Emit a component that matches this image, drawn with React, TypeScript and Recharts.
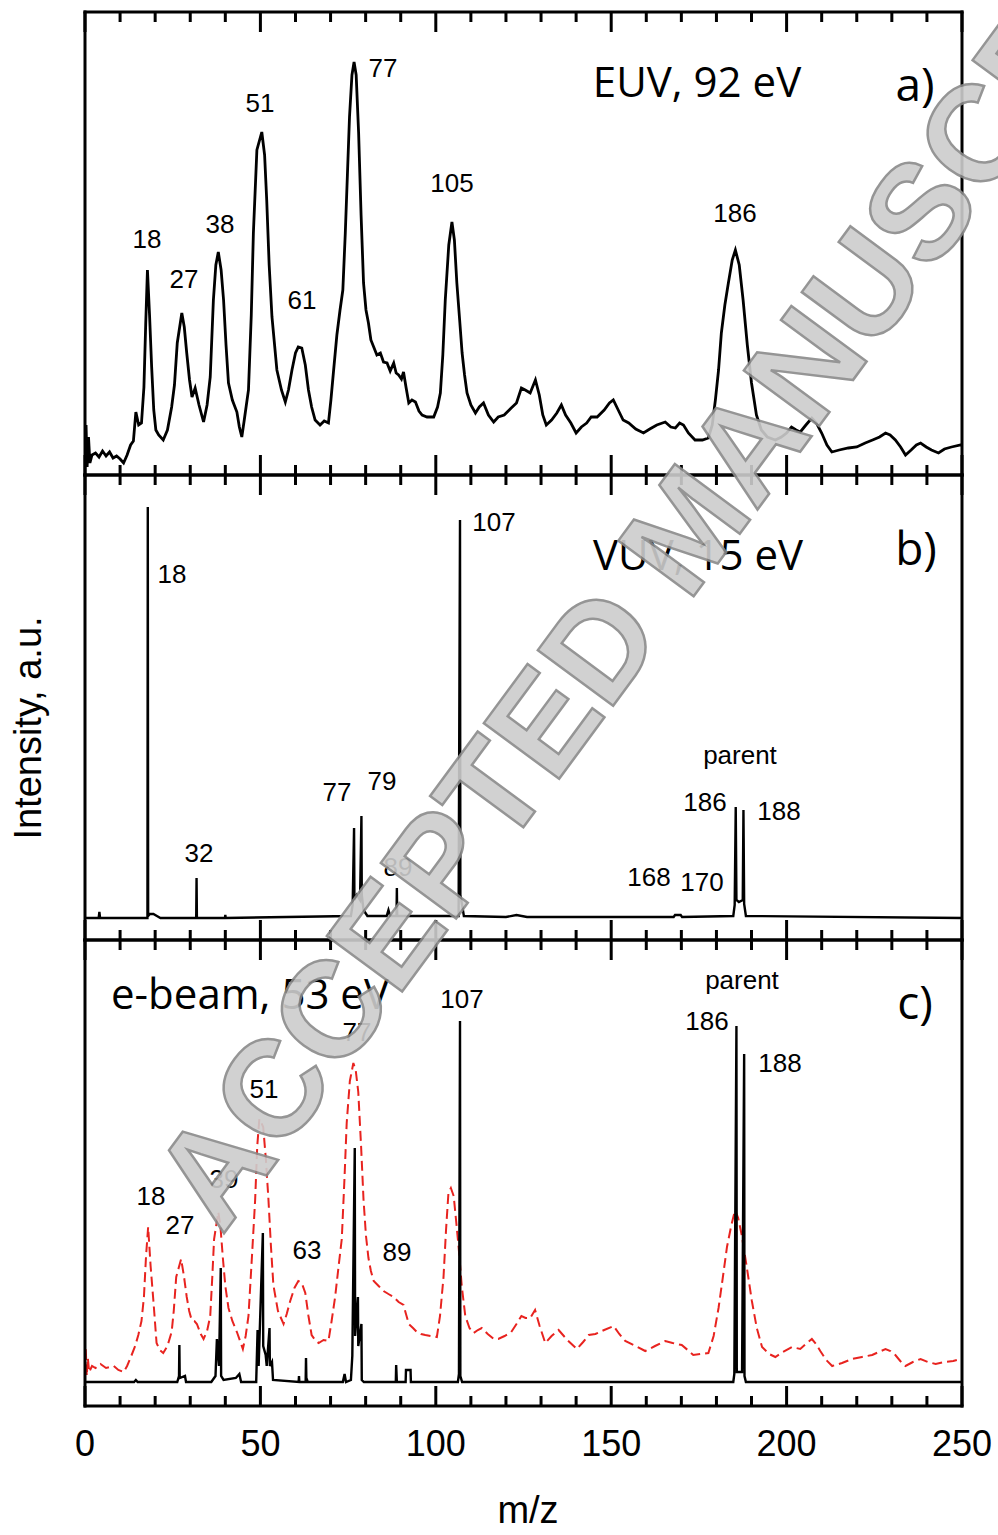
import React from 'react';
import { LineChart, Line, XAxis, YAxis } from 'recharts';

// m/z ticks shared by all three panels
const MZ_TICKS = [0, 10, 20, 30, 40, 50, 60, 70, 80, 90, 100, 110, 120, 130, 140, 150, 160, 170, 180, 190, 200, 210, 220, 230, 240, 250];
const MZ_MAJOR = [0, 50, 100, 150, 200, 250];

// a) EUV, 92 eV
const euvMz = [0, 0.3, 0.6, 1.0, 1.4, 2, 3, 4, 5, 6, 7, 8, 9, 10, 11, 12, 13, 13.8, 14.5, 15.3, 16.1, 16.8, 17.3, 17.8, 18.4, 19, 19.6, 20.2, 21, 22.3, 23.5, 24.7, 25.5, 26.3, 27.6, 28.3, 29, 29.8, 30.5, 31.4, 32.5, 33.8, 34.8, 35.7, 36.6, 37.3, 38, 38.8, 39.5, 40.2, 40.9, 42, 43.3, 44, 44.7, 45.4, 46.6, 47.4, 48, 49, 50.4, 51.2, 51.8, 52.5, 53.3, 54.7, 56, 57.1, 58, 59, 60, 60.8, 61.8, 62.8, 63.7, 64.6, 65.6, 67, 68.2, 69.4, 70.1, 70.8, 71.8, 72.7, 73.5, 74.2, 74.8, 75.4, 76.1, 76.7, 77.3, 78, 78.7, 79.4, 80.1, 80.8, 81.5, 82.3, 83.2, 84.2, 85.1, 86.1, 87, 88, 88.7, 89.4, 90.2, 90.8, 91.5, 92.3, 93.2, 94.2, 95.2, 96.1, 97.5, 99.4, 100.5, 101.3, 102, 102.7, 103.7, 104.6, 105.3, 106, 106.8, 107.5, 108.2, 108.9, 110, 111.3, 112.4, 113.6, 115, 116.5, 117.8, 119.5, 121.5, 123, 124.4, 125.5, 126.9, 128.4, 129.5, 130.5, 131.5, 133, 134.5, 135.8, 137, 138.5, 140, 141.5, 143, 144.3, 146, 148, 149.5, 150.6, 152, 153.4, 155, 157, 159.2, 161, 163, 165.4, 167, 168.3, 169.5, 170.6, 172, 173.9, 176, 177.7, 178.8, 179.7, 180.6, 181.4, 182.4, 183.4, 184.5, 185.4, 186.5, 187.6, 188.8, 190, 191.4, 192.8, 194.5, 196.8, 198.5, 200, 201.4, 202.7, 203.9, 205.5, 207.2, 208.5, 210, 211.5, 212.9, 215, 217.6, 220, 222.4, 224.5, 226.5, 228.2, 229.5, 231, 232.5, 233.9, 235.5, 237, 238.2, 239.8, 241.3, 243.3, 245, 247, 249.6, 250];
const euvInt = [15, 50, 8, 38, 12, 20, 22, 18, 24, 19, 23, 17, 19, 16, 12, 20, 30, 34, 63, 50, 52, 88, 150, 205, 160, 108, 65, 45, 40, 35, 45, 68, 90, 132, 162, 148, 122, 95, 78, 87, 70, 53, 70, 98, 175, 210, 223, 205, 175, 130, 92, 75, 63, 48, 38, 55, 85, 160, 242, 325, 343, 320, 275, 210, 158, 105, 85, 73, 85, 105, 122, 128, 127, 110, 85, 68, 55, 50, 54, 52, 75, 102, 140, 165, 185, 242, 300, 358, 400, 413, 400, 342, 260, 192, 165, 152, 135, 128, 120, 122, 113, 112, 104, 112, 102, 100, 96, 103, 88, 72, 75, 73, 64, 60, 58, 58, 68, 82, 120, 175, 230, 253, 235, 192, 155, 122, 100, 82, 70, 62, 68, 72, 60, 53, 58, 60, 67, 72, 87, 85, 82, 95, 80, 60, 50, 55, 62, 70, 60, 52, 42, 48, 52, 58, 58, 65, 72, 75, 65, 55, 52, 46, 42, 46, 50, 53, 48, 47, 52, 50, 42, 35, 35, 37, 50, 75, 105, 142, 170, 192, 215, 225, 210, 175, 130, 92, 60, 45, 38, 35, 38, 42, 48, 45, 43, 50, 57, 52, 42, 30, 23, 25, 27, 28, 32, 35, 38, 42, 40, 35, 28, 20, 25, 30, 32, 28, 25, 22, 26, 28, 30, 30];

// b) VUV, 15 eV (stick spectrum)
const vuvMz = [0, 3.9, 4.1, 4.3, 17.8, 17.9, 18.0, 18.5, 19.5, 20.5, 21.5, 31.7, 31.8, 31.9, 39.9, 40, 40.1, 75.8, 76.3, 76.7, 76.8, 77.5, 78.4, 78.8, 78.9, 79.4, 80.5, 86, 86.5, 87, 88.8, 88.9, 89, 106.5, 106.9, 107.0, 107.5, 108, 120, 123, 126, 167.8, 168.2, 169.8, 170.2, 184.8, 185.2, 185.5, 185.7, 186.4, 187.5, 187.7, 187.9, 188.4, 250];
const vuvInt = [22, 22, 28, 22, 22, 433, 24, 26, 26, 24, 22, 22, 62, 22, 22, 25, 22, 24, 35, 112, 40, 45, 40, 124, 45, 30, 24, 24, 30, 24, 24, 52, 24, 24, 420, 45, 35, 24, 23, 25, 23, 23, 25, 25, 23, 24, 35, 133, 40, 38, 40, 130, 36, 24, 22];

// c) e-beam, 53 eV (black sticks) and EUV overlay (red dashed)
const ebeamMz = [0, 14, 14.5, 15, 26.3, 26.8, 26.9, 27.0, 28.5, 28.8, 36, 37.2, 37.6, 38.2, 38.7, 38.8, 39.5, 43, 44, 44.5, 48.8, 49.2, 49.5, 50.7, 50.8, 51.5, 51.8, 52.6, 52.7, 53.3, 53.6, 60.9, 61, 61.1, 62.9, 63.0, 63.1, 63.5, 73.5, 74, 74.4, 75.8, 76.2, 76.9, 77.0, 77.8, 77.9, 78.8, 78.9, 79.5, 88.6, 88.7, 88.9, 91.4, 91.5, 92.8, 92.9, 106.3, 106.6, 106.9, 107.0, 107.5, 184.8, 185.1, 185.7, 185.8, 187.3, 187.9, 188.0, 188.4, 250];
const ebeamInt = [24, 24, 26, 24, 24, 30, 61, 28, 30, 24, 24, 30, 67, 40, 138, 30, 26, 28, 32, 24, 24, 76, 40, 173, 60, 51, 40, 78, 40, 44, 26, 24, 30, 24, 24, 48, 28, 24, 24, 32, 24, 26, 50, 258, 70, 109, 60, 82, 26, 24, 24, 41, 24, 24, 36, 36, 24, 24, 32, 385, 30, 24, 24, 32, 380, 34, 34, 352, 30, 24, 24];
const overlayMz = [0, 0.2, 0.5, 0.8, 1.2, 2, 3, 4.4, 6, 8.2, 9.5, 11, 12, 13.3, 14.3, 15.2, 16.1, 16.8, 17.4, 18, 18.7, 19.5, 20.4, 21.3, 22.3, 23.5, 24.7, 25.3, 26, 27.4, 28.2, 29, 29.7, 30.4, 31.2, 31.9, 33, 33.8, 34.8, 35.7, 36.3, 36.8, 38, 38.6, 39.3, 40, 40.9, 42, 43.3, 44.2, 45, 45.8, 46.6, 47.6, 48.5, 49.1, 49.7, 50.3, 50.8, 51.6, 52.3, 53, 53.7, 55, 56.6, 57.5, 58.5, 59.7, 60.8, 61.8, 62.8, 63.7, 64.6, 65.6, 66.6, 68, 69.4, 70.3, 71.3, 72.3, 73.2, 74, 74.6, 75.5, 76.5, 77.2, 77.9, 78.7, 79.4, 80.1, 80.8, 81.5, 82.3, 83.7, 85.1, 86.5, 88, 89.4, 90.8, 91.5, 92.3, 93.5, 94.6, 95.8, 97, 98.6, 100.3, 101.2, 102.2, 102.9, 103.6, 104.3, 105.1, 105.8, 106.5, 107.4, 108.4, 109.6, 110.8, 112, 113.1, 114.8, 116.5, 117.8, 119.6, 121.5, 123, 124.4, 125.6, 126.9, 128.3, 129.6, 131.2, 133, 135, 137.5, 140.2, 142, 143.6, 145.5, 148, 150.7, 152.3, 154, 157, 159.7, 162.5, 165.4, 167.5, 170.1, 171.8, 173.4, 175.5, 177.7, 179.2, 180.6, 181.8, 183, 184.2, 185.3, 186.2, 187.2, 188.6, 190.1, 191.5, 193, 195, 196.8, 199, 201.5, 203.9, 205.5, 207.2, 208.4, 209.6, 211.3, 213, 215.8, 218.7, 221.5, 224.4, 226.3, 228.2, 229.6, 231, 232.4, 233.9, 236, 238.2, 240.3, 242.5, 245, 247.5, 249.6, 250];
const overlayInt = [32, 59, 30, 48, 34, 40, 38, 42, 38, 40, 36, 34, 40, 51, 60, 71, 85, 109, 150, 179, 140, 105, 63, 56, 53, 60, 74, 95, 129, 147, 130, 109, 95, 86, 85, 82, 72, 67, 75, 90, 130, 167, 194, 180, 148, 120, 98, 85, 74, 65, 57, 70, 90, 150, 206, 260, 287, 283, 279, 245, 206, 160, 121, 95, 82, 92, 105, 118, 125, 123, 113, 90, 71, 66, 63, 66, 65, 85, 109, 140, 167, 230, 283, 325, 343, 335, 314, 260, 206, 170, 148, 135, 125, 120, 115, 112, 109, 104, 101, 92, 82, 78, 74, 72, 71, 70, 69, 90, 129, 175, 213, 218, 210, 185, 159, 120, 90, 78, 73, 76, 78, 72, 67, 67, 70, 74, 82, 90, 88, 88, 96, 80, 63, 70, 76, 66, 57, 64, 71, 72, 76, 80, 72, 65, 60, 55, 60, 65, 63, 61, 56, 51, 52, 53, 70, 98, 128, 159, 180, 196, 188, 171, 140, 105, 78, 59, 52, 49, 54, 59, 57, 62, 67, 62, 55, 46, 40, 43, 47, 49, 51, 54, 57, 55, 51, 45, 40, 44, 47, 44, 42, 44, 45, 47, 47];

const toRows = (mz: number[], v: number[]) => mz.map((m, i) => ({ mz: m, v: v[i] }));
const euvData = toRows(euvMz, euvInt);
const vuvData = toRows(vuvMz, vuvInt);
const ebeamData = toRows(ebeamMz, ebeamInt);
const overlayData = toRows(overlayMz, overlayInt);

const W = 998;
// axes are 1px thick (recharts skips 0-size axes), so margins are one px short
const LEFT = 84;
const RIGHT = 35;
const AXIS_LINE = { stroke: '#000', strokeWidth: 3, strokeLinecap: 'square' as const };
const NUM_FONT = '"Liberation Sans", Arial, sans-serif';
const NOTE_FONT = '"Open Sans", sans-serif';

// inward tick marks on the panel frame, optional m/z labels below
const FrameTick = (props: any) => {
  const { x, y, payload, dir, label } = props;
  const major = MZ_MAJOR.includes(payload.value);
  const len = major ? 20 : 10;
  return (
    <g>
      <line x1={x} x2={x} y1={y} y2={y + dir * len} stroke="#000" strokeWidth={3} />
      {label && major && (
        <text x={x} y={y + 37} textAnchor="middle" dominantBaseline="central" fontFamily={NUM_FONT} fontSize={36} fill="#000">
          {payload.value}
        </text>
      )}
    </g>
  );
};

const frameAxes = (yMax: number, labels: boolean) => [
  <XAxis key="xb" xAxisId="b" dataKey="mz" type="number" domain={[0, 250]} allowDataOverflow ticks={MZ_TICKS} interval={0}
    orientation="bottom" height={1} tickSize={0} tickMargin={0} tickLine={false} axisLine={AXIS_LINE}
    tick={(p: any) => <FrameTick {...p} dir={-1} label={labels} />} />,
  <XAxis key="xt" xAxisId="t" dataKey="mz" type="number" domain={[0, 250]} allowDataOverflow ticks={MZ_TICKS} interval={0}
    orientation="top" height={1} tickSize={0} tickMargin={0} tickLine={false} axisLine={AXIS_LINE}
    tick={(p: any) => <FrameTick {...p} dir={1} label={false} />} />,
  <YAxis key="yl" yAxisId="l" type="number" domain={[0, yMax]} allowDataOverflow orientation="left" width={1}
    tick={false} tickLine={false} axisLine={AXIS_LINE} />,
  <YAxis key="yr" yAxisId="r" type="number" domain={[0, yMax]} allowDataOverflow orientation="right" width={1}
    tick={false} tickLine={false} axisLine={AXIS_LINE} />,
];

const peak = (x: number, y: number, t: string, size = 26) => (
  <text key={`${t}-${x}-${y}`} x={x} y={y} textAnchor="middle" dominantBaseline="central" fontFamily={NUM_FONT} fontSize={size} fill="#000">{t}</text>
);
const note = (x: number, y: number, t: string, size: number) => (
  <text key={t} x={x} y={y} textAnchor="middle" dominantBaseline="central" fontFamily={NOTE_FONT} fontSize={size} fill="#000">{t}</text>
);

export default function App() {
  return (
    <div style={{ position: 'absolute', left: 0, top: 0, width: W, height: 1535, background: '#fff', overflow: 'hidden' }}>
      {/* a) */}
      <div style={{ position: 'absolute', left: 0, top: 2 }}>
        <LineChart width={W} height={483} margin={{ top: 9, right: RIGHT, bottom: 9, left: LEFT }}>
          {frameAxes(463, false)}
          <Line xAxisId="b" yAxisId="l" data={euvData} dataKey="v" type="linear" stroke="#000" strokeWidth={2.8} dot={false} isAnimationActive={false} />
        </LineChart>
      </div>
      {/* b) */}
      <div style={{ position: 'absolute', left: 0, top: 465 }}>
        <LineChart width={W} height={485} margin={{ top: 9, right: RIGHT, bottom: 9, left: LEFT }}>
          {frameAxes(465, false)}
          <Line xAxisId="b" yAxisId="l" data={vuvData} dataKey="v" type="linear" stroke="#000" strokeWidth={2.4} dot={false} isAnimationActive={false} />
        </LineChart>
      </div>
      {/* c) */}
      <div style={{ position: 'absolute', left: 0, top: 930 }}>
        <LineChart width={W} height={546} margin={{ top: 9, right: RIGHT, bottom: 69, left: LEFT }}>
          {frameAxes(466, true)}
          <Line xAxisId="b" yAxisId="l" data={overlayData} dataKey="v" type="linear" stroke="#e8231f" strokeWidth={2} strokeDasharray="10 5" dot={false} isAnimationActive={false} />
          <Line xAxisId="b" yAxisId="l" data={ebeamData} dataKey="v" type="linear" stroke="#000" strokeWidth={2.4} dot={false} isAnimationActive={false} />
        </LineChart>
      </div>

      <svg width={W} height={1535} style={{ position: 'absolute', left: 0, top: 0, pointerEvents: 'none' }}>
        {/* panel a labels */}
        {peak(147, 239, '18')}
        {peak(184, 279, '27')}
        {peak(220, 224, '38')}
        {peak(260, 103, '51')}
        {peak(302, 300, '61')}
        {peak(383, 68, '77')}
        {peak(452, 183, '105')}
        {peak(735, 213, '186')}
        {note(697, 80, 'EUV, 92 eV', 42)}
        {note(915, 83, 'a)', 46)}
        {/* panel b labels */}
        {peak(172, 574, '18')}
        {peak(199, 853, '32')}
        {peak(337, 792, '77')}
        {peak(382, 781, '79')}
        {peak(398, 867, '89')}
        {peak(494, 522, '107')}
        {peak(740, 755, 'parent')}
        {peak(705, 802, '186')}
        {peak(779, 811, '188')}
        {peak(649, 877, '168')}
        {peak(702, 882, '170')}
        {note(698, 553, 'VUV, 15 eV', 42)}
        {note(916, 547, 'b)', 46)}
        {/* panel c labels */}
        {note(250, 992, 'e-beam, 53 eV', 42)}
        {note(915, 1001, 'c)', 46)}
        {peak(462, 999, '107')}
        {peak(357, 1032, '77')}
        {peak(264, 1089, '51')}
        {peak(224, 1179, '39')}
        {peak(151, 1196, '18')}
        {peak(180, 1225, '27')}
        {peak(307, 1250, '63')}
        {peak(397, 1252, '89')}
        {peak(742, 980, 'parent')}
        {peak(707, 1021, '186')}
        {peak(780, 1063, '188')}
        {/* axis titles */}
        <text x={528} y={1510} textAnchor="middle" dominantBaseline="central" fontFamily={NUM_FONT} fontSize={38} fill="#000">m/z</text>
        <text x={28} y={728} textAnchor="middle" dominantBaseline="central" fontFamily={NUM_FONT} fontSize={38} fill="#000" transform="rotate(-90 28 728)">Intensity, a.u.</text>
        {/* watermark */}
        <text x={222} y={1236} transform="rotate(-53.6 222 1236)" fontFamily={NUM_FONT} fontWeight={700} fontSize={136}
          fill="#cdcdcd" stroke="#8a8a8a" strokeWidth={2.5} opacity={0.9}>ACCEPTED MANUSCRIPT</text>
      </svg>
    </div>
  );
}
